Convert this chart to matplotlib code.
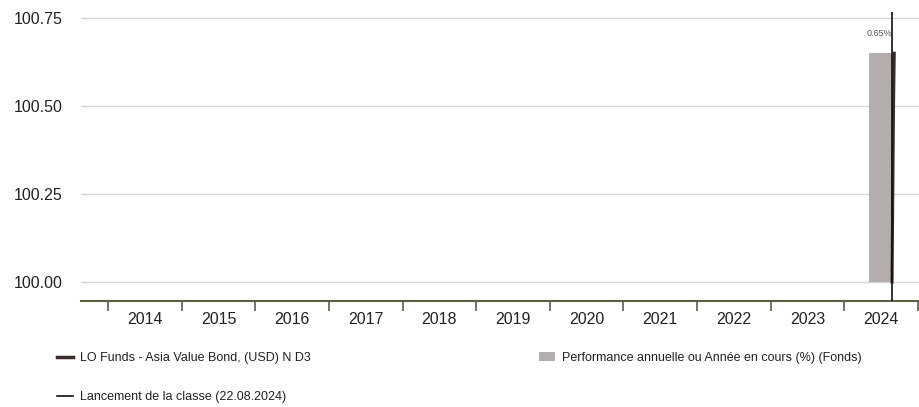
import matplotlib.pyplot as plt
import numpy as np
from matplotlib.lines import Line2D
from matplotlib.patches import Patch

# data
annees = ["2014", "2015", "2016", "2017", "2018", "2019", "2020", "2021", "2022", "2023", "2024"]
perf_annuelle = [None, None, None, None, None, None, None, None, None, None, 0.65]
base = 100.0
# fund line (launched 22.08.2024, index from 100)
fonds_x = [10.15, 10.16, 10.17, 10.18]
fonds_y = [100.0, 100.25, 100.5, 100.65]
lancement_x = 10.15
y_ticks = [100.00, 100.25, 100.50, 100.75]

plt.rcParams["font.family"] = ["Liberation Sans Narrow", "Liberation Sans", "DejaVu Sans"]

fig = plt.figure(figsize=(9.2, 4.07), dpi=100)
ax = fig.add_axes([81 / 920, (407 - 301) / 407, (920 - 81) / 920, (301 - 12) / 407])

x = np.arange(len(annees))
for i, v in enumerate(perf_annuelle):
    if v is None:
        continue
    ax.bar(x[i], v, bottom=base, width=0.32, color="#b3aeac", zorder=2)
    ax.text(x[i] - 0.02, base + v + 0.055, f"{v:.2f}%", ha="center", va="center",
            fontsize=6.5, color="#555555")

ax.plot(fonds_x, fonds_y, color="#3b2a26", lw=2.2, zorder=3)
ax.axvline(lancement_x, color="#111111", lw=1.2, zorder=4)

for yv in y_ticks:
    ax.axhline(yv, color="#d6d6d6", lw=1, zorder=1)

ax.set_xlim(-0.87, 10.53)
ax.set_ylim(99.946, 100.767)
ax.set_yticks(y_ticks)
ax.set_yticklabels([f"{v:.2f}" for v in y_ticks], fontsize=11.5, color="#222222")
ax.tick_params(axis="y", length=0, pad=13)

ax.set_xticks(np.arange(-0.5, 11, 1))
ax.set_xticklabels([])
ax.set_xticks(x, minor=True)
ax.set_xticklabels(annees, minor=True, fontsize=11.5, color="#222222")
ax.tick_params(axis="x", which="major", length=7, width=1.2, color="#5e5e4c")
ax.tick_params(axis="x", which="minor", length=0, pad=8)

for s in ["top", "right", "left"]:
    ax.spines[s].set_visible(False)
ax.spines["bottom"].set_color("#5e5e4c")
ax.spines["bottom"].set_linewidth(1.5)

# legend
h1 = [Line2D([0], [0], color="#3b2a26", lw=2.5)]
h3 = [Line2D([0], [0], color="#111111", lw=1.2)]
h2 = [Patch(facecolor="#b3aeac", edgecolor="none")]
kw = dict(frameon=False, fontsize=9, handlelength=1.3, handletextpad=0.55, borderaxespad=0)
leg1 = fig.legend(h1, ["LO Funds - Asia Value Bond, (USD) N D3"], loc="center left",
                  bbox_to_anchor=(52 / 920, 1 - 358 / 407), **kw)
leg2 = fig.legend(h2, ["Performance annuelle ou Année en cours (%) (Fonds)"], loc="center left",
                  bbox_to_anchor=(534 / 920, 1 - 358 / 407), **kw)
leg3 = fig.legend(h3, ["Lancement de la classe (22.08.2024)"], loc="center left",
                  bbox_to_anchor=(52 / 920, 1 - 397 / 407), **kw)
for lg in (leg1, leg2, leg3):
    for t in lg.get_texts():
        t.set_color("#222222")

fig.savefig("out.png", dpi=100)
